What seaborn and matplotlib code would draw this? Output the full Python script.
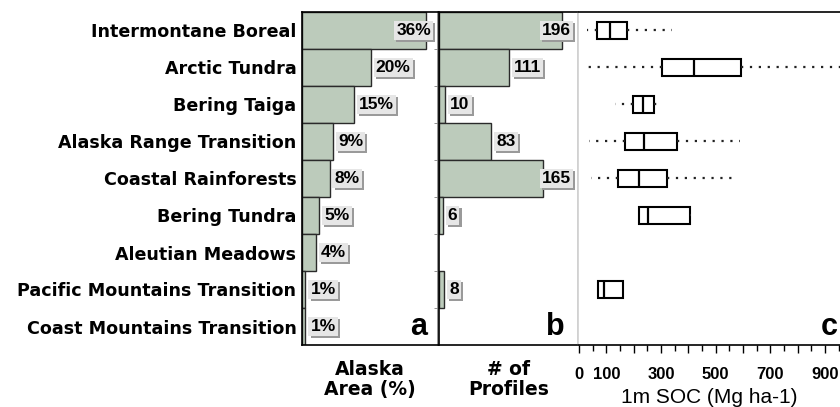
import numpy as np
import pandas as pd
import matplotlib
matplotlib.use("Agg")
import matplotlib.pyplot as plt
from matplotlib.ticker import MultipleLocator
import matplotlib.patheffects as pe
import seaborn as sns

# ---------------- data ----------------
regions = ["Intermontane Boreal", "Arctic Tundra", "Bering Taiga",
           "Alaska Range Transition", "Coastal Rainforests", "Bering Tundra",
           "Aleutian Meadows", "Pacific Mountains Transition",
           "Coast Mountains Transition"]
area_pct = [36, 20, 15, 9, 8, 5, 4, 1, 1]
n_profiles = [196, 111, 10, 83, 165, 6, None, 8, None]
soc_min = [28, 16, 132, 38, 43, 218, None, 68, None]
soc_q1 = [65, 305, 199, 169, 144, 220, None, 68, None]
soc_med = [113, 421, 233, 237, 221, 254, None, 91, None]
soc_q3 = [175, 593, 274, 357, 321, 406, None, 160, None]
soc_max = [339, 990, 285, 589, 583, 410, None, 160, None]
soc_ticks = [0, 100, 200, 300, 400, 500, 600, 700, 800, 900]
soc_ticklabels = ["0", "100", "", "300", "", "500", "", "700", "", "900"]

# ---------------- tables ----------------
df_area = pd.DataFrame({"region": regions, "value": area_pct})
df_prof = pd.DataFrame({"region": regions, "value": n_profiles}).dropna()
rows = []
for r, a, b, c, d, e in zip(regions, soc_min, soc_q1, soc_med, soc_q3, soc_max):
    if a is None:
        continue
    for v in (a, b, c, d, e):
        rows.append({"region": r, "soc": v})
df_soc = pd.DataFrame(rows)

# ---------------- style ----------------
sns.set_style("white")
plt.rcParams["font.family"] = ["DejaVu Sans"]
for k in ("text.color", "axes.labelcolor", "xtick.color", "ytick.color"):
    plt.rcParams[k] = "black"

BAR = "#bccbbb"
EDGE = "#2a2a2a"
LIGHT = "#d0d0d0"

fig = plt.figure(figsize=(8.4, 4.07), dpi=100)
W, H = 840.0, 407.0
top_px, bot_px = 12, 345
def axrect(l, r):
    return [l / W, 1 - bot_px / H, (r - l) / W, (bot_px - top_px) / H]

ax_a = fig.add_axes(axrect(302, 438))
ax_b = fig.add_axes(axrect(439, 578))
ax_c = fig.add_axes(axrect(578, 840))

# bars
sns.barplot(data=df_area, x="value", y="region", order=regions, orient="h",
            width=1.0, color=BAR, saturation=1, edgecolor=EDGE, linewidth=1.0,
            ax=ax_a)
sns.barplot(data=df_prof, x="value", y="region", order=regions, orient="h",
            width=1.0, color=BAR, saturation=1, edgecolor=EDGE, linewidth=1.0,
            ax=ax_b)
ax_a.set_xlim(0, 39.5)
ax_b.set_xlim(0, 221)

lab_font = dict(family="Liberation Sans", weight="bold", size=12.5)
shadow = [pe.withSimplePatchShadow(offset=(1.6, -1.6), shadow_rgbFace="#9a9a9a",
                                   alpha=1.0), pe.Normal()]

def value_labels(ax, values, fmt, xmax):
    for i, v in enumerate(values):
        if v is None:
            continue
        txt = fmt.format(v)
        if v / xmax > 0.7:
            xy, xyc, off, ha = (1, i), ("axes fraction", "data"), (-7, 0), "right"
        else:
            xy, xyc, off, ha = (v, i), "data", (5, 0), "left"
        t = ax.annotate(txt, xy=xy, xycoords=xyc, xytext=off,
                        textcoords="offset pixels", ha=ha, va="center",
                        color="black", zorder=5, **lab_font,
                        bbox=dict(boxstyle="square,pad=0.12", fc="#e6e6e6", ec="none"))
        t.get_bbox_patch().set_path_effects(shadow)

value_labels(ax_a, area_pct, "{}%", 39.5)
value_labels(ax_b, n_profiles, "{}", 221)

# box plots
sns.boxplot(data=df_soc, x="soc", y="region", order=regions, orient="h",
            whis=(0, 100), width=0.48, color="white", saturation=1,
            linecolor="black", linewidth=1.5, showfliers=False, showcaps=False,
            whiskerprops=dict(linestyle=(0, (1, 3)), linewidth=1.6, color="#222222"),
            medianprops=dict(color="black", linewidth=1.6),
            ax=ax_c)
ax_c.set_xlim(-4, 955)
ax_c.set_xticks(soc_ticks)
ax_c.set_xticklabels(soc_ticklabels, family="Liberation Sans", weight="bold", size=12)
ax_c.xaxis.set_minor_locator(MultipleLocator(50))
ax_c.tick_params(axis="x", which="major", direction="out", length=6, width=1,
                 color="black", pad=10, bottom=True)
ax_c.tick_params(axis="x", which="minor", direction="out", length=4, width=1,
                 color="black", bottom=True)

# axes cosmetics
for ax in (ax_a, ax_b, ax_c):
    ax.set_ylim(8.5, -0.5)
    ax.set_ylabel("")
    ax.set_xlabel("")
    for s in ax.spines.values():
        s.set_linewidth(1.2)
        s.set_color("black")

ax_a.set_xticks([])
ax_b.set_xticks([])
ax_a.set_yticks(range(len(regions)))
ax_a.set_yticklabels(regions, weight="bold", size=12.6, family="DejaVu Sans",
                     color="black")
ax_a.tick_params(axis="y", length=0, pad=4)
ax_a.spines["right"].set_color("#808080")
ax_b.set_yticks([])
ax_b.spines["right"].set_color(LIGHT)
ax_c.set_yticks([])
ax_c.spines["left"].set_color(LIGHT)
ax_c.spines["right"].set_visible(False)

# row boundary marks on a's right spine
ax_a.set_yticks(np.arange(0.5, 8.5, 1.0), minor=True)
ax_a.tick_params(axis="y", which="minor", right=True, left=False, length=3,
                 direction="in", color="#808080")

# panel letters
for ax, letter, dx in ((ax_a, "a", -11), (ax_b, "b", -13), (ax_c, "c", -2)):
    ax.annotate(letter, xy=(1, 0), xycoords="axes fraction", xytext=(dx, 10),
                textcoords="offset pixels", ha="right", va="baseline",
                family="Liberation Sans", weight="bold", size=22, color="black")

# axis titles
ax_a.text(0.5, -0.045, "Alaska\nArea (%)", transform=ax_a.transAxes,
          ha="center", va="top", weight="bold", size=13.5, linespacing=1.1,
          color="black")
ax_b.text(0.5, -0.045, "# of\nProfiles", transform=ax_b.transAxes,
          ha="center", va="top", weight="bold", size=13.5, linespacing=1.1,
          color="black")
ax_c.set_xlabel("1m SOC (Mg ha-1)", family="Liberation Sans", size=15, labelpad=4,
                color="black")

fig.savefig("out.png", dpi=100)
